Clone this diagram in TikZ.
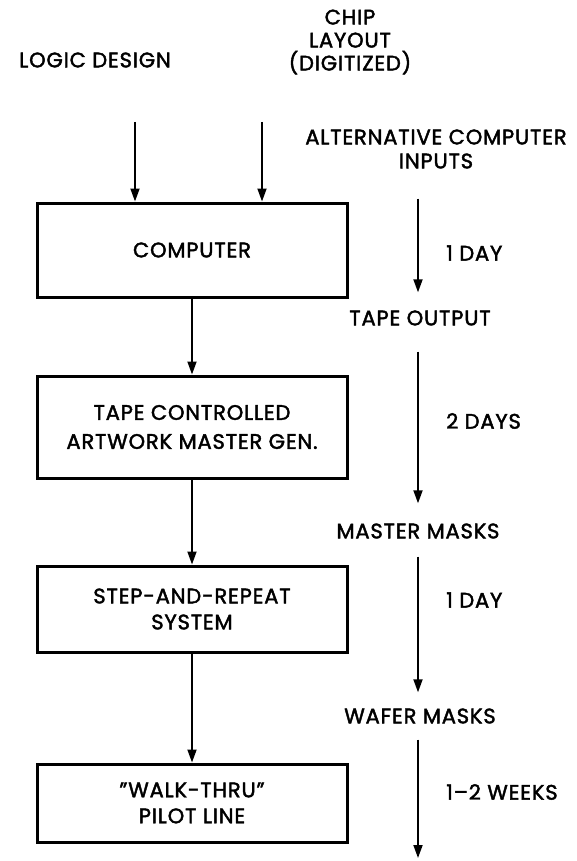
\documentclass[tikz,border=0pt]{standalone}
\usepackage{fontspec}
\setmainfont{Poppins}[FakeBold=2, LetterSpace=4]
\usetikzlibrary{arrows.meta}

\begin{document}
\begin{tikzpicture}[x=1pt,y=-1pt]
\tikzstyle{every node}+=[inner sep=0pt, font=\fontsize{21}{26}\selectfont, align=center]
\tikzstyle{stage}=[draw, line width=3pt, minimum width=310pt]
\tikzstyle{flow}=[line width=1.8pt, -{Triangle[length=13pt,width=9pt]}]
\useasboundingbox (0,0) rectangle (576,861);
% inputs
\node (logic) at (95,60) {LOGIC DESIGN};
\node [font=\fontsize{21}{23}\selectfont] (chip) at (350,42) {CHIP\\LAYOUT\\(DIGITIZED)};
\coordinate (logictop) at (135,122);
\coordinate (chiptop) at (262,122);
% main chain of boxes
\node [stage, minimum height=94pt] (comp) at (192,250) {COMPUTER};
\node [stage, minimum height=102pt, font=\fontsize{21}{29}\selectfont] (artwork) at (192,427) {TAPE CONTROLLED\\ARTWORK MASTER GEN.};
\node [stage, minimum height=86pt] (steprep) at (192,609) {STEP-AND-REPEAT\\SYSTEM};
\node [stage, minimum height=78pt] (walk) at (192,803) {\symbol{34}WALK-THRU\symbol{34}\\PILOT LINE};
\draw [flow] (logictop) -- (logictop |- comp.north);
\draw [flow] (chiptop) -- (chiptop |- comp.north);
\draw [flow] (comp) -- (artwork);
\draw [flow] (artwork) -- (steprep);
\draw [flow] (steprep) -- (walk);
% products and times
\node [font=\fontsize{21}{24}\selectfont] (alt) at (436,149) {ALTERNATIVE COMPUTER\\INPUTS};
\node (tape) at (420,318) {TAPE OUTPUT};
\node (mm) at (418,531) {MASTER MASKS};
\node (wm) at (420,716) {WAFER MASKS};
\coordinate (fin) at (418,858);
\draw [flow, shorten <=30pt, shorten >=18pt] (alt.south -| 418,0) -- (418,0 |- tape.north);
\draw [flow, shorten <=26pt, shorten >=20pt] (tape.south -| 418,0) -- (418,0 |- mm.north);
\draw [flow, shorten <=18pt, shorten >=16pt] (mm.south -| 418,0) -- (418,0 |- wm.north);
\draw [flow, shorten <=16pt] (wm.south -| 418,0) -- (fin);
\node [anchor=west] (t1) at (446,253) {1 DAY};
\node [anchor=west] (t2) at (446,421) {2 DAYS};
\node [anchor=west] (t3) at (446,600) {1 DAY};
\node [anchor=west] (t4) at (446,792) {1--2 WEEKS};
\end{tikzpicture}
\end{document}
